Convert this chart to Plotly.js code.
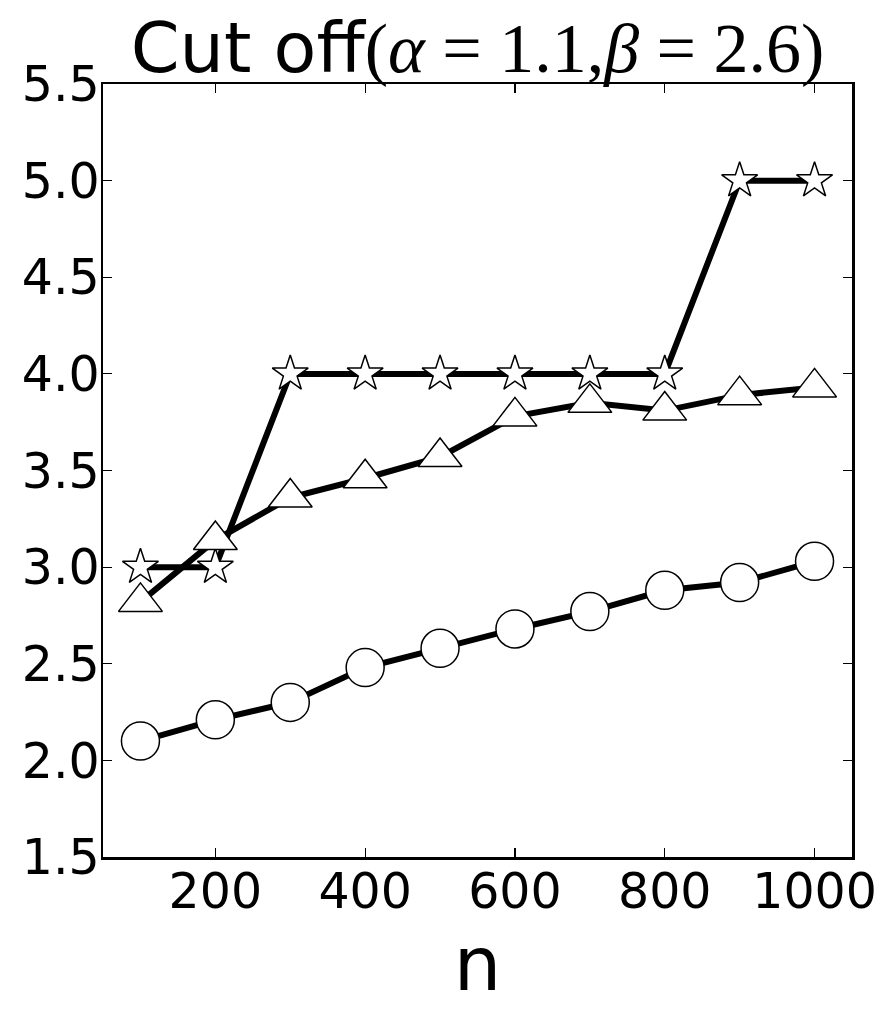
<!DOCTYPE html>
<html>
<head>
<meta charset="utf-8">
<script src="https://cdn.plot.ly/plotly-3.0.1.min.js"></script>
<style>
  html, body { margin: 0; padding: 0; background: #fff; }
</style>
</head>
<body>
<div id="chart" style="width:892px;height:1014px;"></div>
<script>
// n values on the x axis
const nValues = [100, 200, 300, 400, 500, 600, 700, 800, 900, 1000];

// the three series
const starSeries = [3.0, 3.0, 4.0, 4.0, 4.0, 4.0, 4.0, 4.0, 5.0, 5.0];
const triangleSeries = [2.82, 3.14, 3.36, 3.46, 3.57, 3.78, 3.85, 3.81, 3.89, 3.93];
const circleSeries = [2.10, 2.21, 2.30, 2.48, 2.58, 2.68, 2.77, 2.88, 2.92, 3.03];

const yTicks = [1.5, 2.0, 2.5, 3.0, 3.5, 4.0, 4.5, 5.0, 5.5];
const xTicks = [200, 400, 600, 800, 1000];

function series(y, symbol, size) {
    return {
        x: nValues,
        y: y,
        type: 'scatter',
        mode: 'lines+markers',
        line: { color: 'black', width: 6 },
        marker: {
            symbol: symbol,
            size: size,
            color: 'white',
            line: { color: 'black', width: 1.5 }
        },
        showlegend: false
    };
}

const traces = [
    series(starSeries, 'star', 27),
    series(triangleSeries, 'triangle-up', 38),
    series(circleSeries, 'circle', 38)
];

const tickFont = { family: 'DejaVu Sans', size: 49, color: 'black' };

const layout = {
    width: 892,
    height: 1014,
    margin: { l: 103, r: 40, t: 84, b: 157 },
    paper_bgcolor: 'white',
    plot_bgcolor: 'white',
    font: { family: 'DejaVu Sans', color: 'black' },
    title: {
        text: 'Cut off<span style="font-family:\'Liberation Serif\'">(<i>α</i> = 1.1,<i>β</i> = 2.6)</span>',
        font: { family: 'DejaVu Sans', size: 70, color: 'black' },
        xref: 'paper',
        x: 0.5,
        xanchor: 'center',
        yref: 'container',
        y: 0.953,
        yanchor: 'middle'
    },
    xaxis: {
        range: [50, 1050],
        tickvals: xTicks,
        ticktext: xTicks.map(String),
        ticks: 'inside',
        ticklen: 9,
        tickwidth: 1.2,
        tickcolor: 'black',
        ticklabelstandoff: -10,
        showline: true,
        linecolor: 'black',
        linewidth: 2.5,
        mirror: 'ticks',
        showgrid: false,
        zeroline: false,
        tickfont: tickFont,
        title: {
            text: 'n',
            font: { family: 'DejaVu Sans', size: 75, color: 'black' },
            standoff: 8
        }
    },
    yaxis: {
        range: [1.5, 5.5],
        tickvals: yTicks,
        ticktext: yTicks.map(v => v.toFixed(1)),
        ticks: 'inside',
        ticklen: 9,
        tickwidth: 1.2,
        tickcolor: 'black',
        ticklabelstandoff: -9,
        showline: true,
        linecolor: 'black',
        linewidth: 2.5,
        mirror: 'ticks',
        showgrid: false,
        zeroline: false,
        tickfont: tickFont
    }
};

Plotly.newPlot('chart', traces, layout, { displayModeBar: false, staticPlot: true });
</script>
</body>
</html>
